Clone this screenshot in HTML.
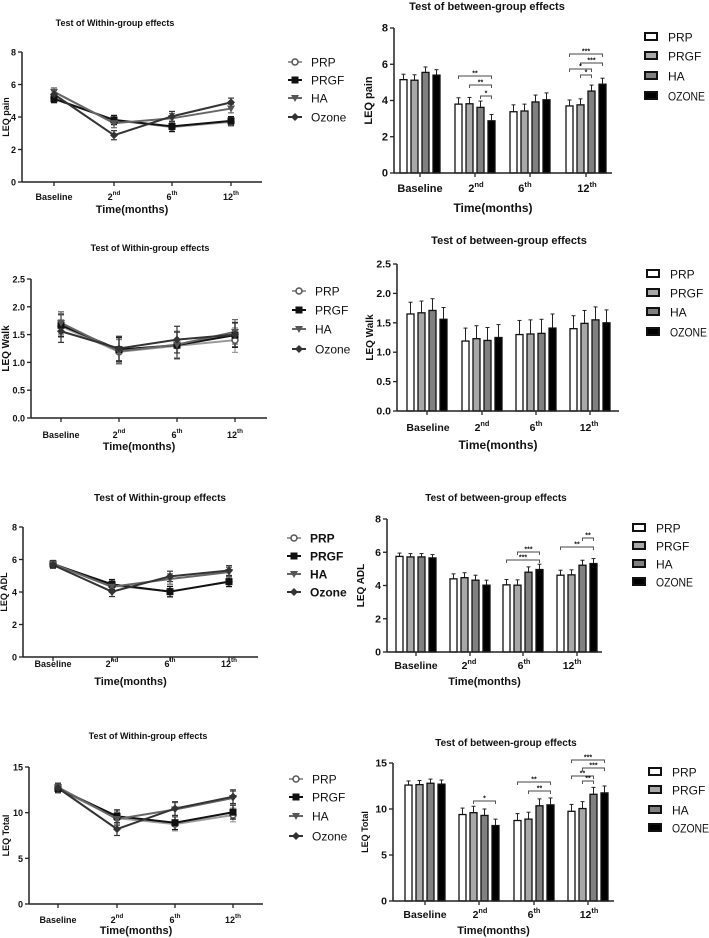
<!DOCTYPE html>
<html><head><meta charset="utf-8"><style>
html,body{margin:0;padding:0;background:#fff;}
svg{display:block;font-family:"Liberation Sans",Arial,sans-serif;}
</style></head><body>
<svg id="fig" width="709" height="938" viewBox="0 0 709 938" xmlns="http://www.w3.org/2000/svg"></svg>
<script>
// ---- data ----
const categories = ["Baseline","2nd","6th","12th"];
const groups = ["PRP","PRGF","HA","OZONE"];
const lineGroups = ["PRP","PRGF","HA","Ozone"];

const painPRP = [5.15,3.8,3.38,3.7];
const painPRGF = [5.12,3.82,3.42,3.76];
const painHA = [5.55,3.62,3.92,4.52];
const painOZ = [5.4,2.88,4.04,4.9];
const painErr = [0.3,0.35,0.38,0.33];

const walkPRP = [1.65,1.19,1.30,1.40];
const walkPRGF = [1.67,1.23,1.31,1.49];
const walkHA = [1.71,1.20,1.32,1.55];
const walkOZ = [1.56,1.25,1.41,1.50];
const walkErr = [0.2,0.22,0.24,0.22];

const adlPRP = [5.75,4.4,4.04,4.62];
const adlPRGF = [5.72,4.47,4.02,4.64];
const adlHA = [5.72,4.32,4.8,5.22];
const adlOZ = [5.66,4.02,4.96,5.32];
const adlErr = [0.2,0.3,0.32,0.3];

const totPRP = [12.6,9.4,8.75,9.75];
const totPRGF = [12.65,9.6,8.9,10.05];
const totHA = [12.8,9.3,10.35,11.6];
const totOZ = [12.7,8.2,10.45,11.75];
const totErr = [0.45,0.7,0.75,0.75];

const painTicks = [0,2,4,6,8];
const walkTicks = [0,0.5,1.0,1.5,2.0,2.5];
const walkTickLabels = ["0.0","0.5","1.0","1.5","2.0","2.5"];
const adlTicks = [0,2,4,6,8];
const totTicks = [0,5,10,15];

// significance: [categoryIndex, fromGroup, toGroup, label]
const painSig = [[1,0,3,"**"],[1,1,3,"**"],[1,2,3,"*"],[3,0,3,"***"],[3,1,3,"***"],[3,0,2,"*"],[3,1,2,"*"]];
const adlSig = [[2,1,3,"***"],[2,0,3,"***"],[3,2,3,"**"],[3,0,3,"**"]];
const totSig = [[1,1,3,"*"],[2,0,3,"**"],[2,1,3,"**"],[3,0,3,"***"],[3,1,3,"***"],[3,0,2,"**"],[3,1,2,"**"]];

// ---- rendering ----
const NS="http://www.w3.org/2000/svg";
const svg=document.getElementById('fig');
function mk(tag,parent){const e=document.createElementNS(NS,tag);parent.appendChild(e);return e;}
function at(e,o){for(const k in o)e.setAttribute(k,o[k]);return e;}
function txt(parent,x,y,s,size,weight,anchor,name){
  const t=mk('text',parent);
  at(t,{x:x,y:y,'font-size':size,'font-weight':weight,'text-anchor':anchor,fill:'#111'});
  
  
  t.textContent=s;return t;
}
function catLabel(parent,x,y,i,size){
  const t=mk('text',parent);
  at(t,{x:x,y:y,'font-size':size,'font-weight':'bold','text-anchor':'middle',fill:'#111'});
  
  
  if(i===0){t.textContent='Baseline';return;}
  const num=['','2','6','12'][i], sup=['','nd','th','th'][i];
  const a=mk('tspan',t);a.textContent=num;
  const b=mk('tspan',t);at(b,{dy:-5,'font-size':size*0.7});b.textContent=sup;
}
function axes(g,p,ticks,labels,ylabel){
  const yl=mk('line',g);at(yl,{x1:p.ax,x2:p.ax,y1:p.top,y2:p.y0,stroke:'#222','stroke-width':1.5});
  
  
  const xl=mk('line',g);at(xl,{x1:p.ax,x2:p.xend,y1:p.y0,y2:p.y0,stroke:'#222','stroke-width':1.5});
  
  
  ticks.forEach((v,i)=>{
    const y=p.sy(v);
    const tk=mk('line',g);at(tk,{x1:p.ax-4,x2:p.ax,y1:y,y2:y,stroke:'#222','stroke-width':1.3});
    
    
    txt(g,p.ax-6,y+3.5,labels?labels[i]:String(v),p.tickSize,'bold','end','y-tick-label');
  });
  categories.forEach((c,i)=>{
    const x=p.cx[i];
    const tk=mk('line',g);at(tk,{x1:x,x2:x,y1:p.y0,y2:p.y0+4,stroke:'#222','stroke-width':1.3});
    
    
    catLabel(g,p.lx?p.lx[i]:x,p.xtY,i,p.tickSize);
  });
  txt(g,(p.ax+p.xend)/2-10,p.xlY,'Time(months)',p.xlSize,'bold','middle','x-axis-title');
  const t=txt(g,0,0,ylabel,p.ylSize,'bold','middle','y-axis-title');
  at(t,{transform:`translate(${p.ylX},${(p.top+p.y0)/2}) rotate(-90)`});
  txt(g,p.titleX,p.titleY,p.title,p.titleSize,'bold','middle','chart-title');
}
function scale(p,max){p.sy=v=>p.y0-(v/max)*(p.y0-p.top);return p;}

const barFills=['#ffffff','#a8a8a8','#808080','#000000'];
const offs=[-16.5,-5.5,5.5,16.5];
function barChart(p,series,err,ticks,labels,max,ylabel,sig){
  const g=mk('g',svg);
  
  
  scale(p,max);
  series.forEach((vals,s)=>{
    vals.forEach((v,i)=>{
      const x=p.cx[i]+offs[s]-3.5, y=p.sy(v), ye=p.sy(v+err[i]);
      const el=mk('line',g);at(el,{x1:x+3.5,x2:x+3.5,y1:y,y2:ye,stroke:'#222','stroke-width':1});
      
      
      const cp=mk('line',g);at(cp,{x1:x+1.5,x2:x+5.5,y1:ye,y2:ye,stroke:'#222','stroke-width':1});
      
      
      const r=mk('rect',g);at(r,{x:x,y:y,width:7,height:p.y0-y,fill:barFills[s],stroke:'#111','stroke-width':1.3});
      
      
    });
  });
  (sig||[]).forEach(([c,a,b,lab],k)=>{
    const xa=p.cx[c]+offs[a], xb=p.cx[c]+offs[b], y=p.sigY[k];
    const pl=mk('polyline',g);at(pl,{points:`${xa},${y+3} ${xa},${y} ${xb},${y} ${xb},${y+3}`,fill:'none',stroke:'#444','stroke-width':0.9});
    
    
    txt(g,(xa+xb)/2,y-0.5,lab,7,'bold','middle','significance-label');
  });
  axes(g,p,ticks,labels,ylabel);
  groups.forEach((n,s)=>{
    const y=p.legY[s];
    const r=mk('rect',g);at(r,{x:p.legX,y:y-4,width:12,height:7,fill:barFills[s],stroke:'#111','stroke-width':2});
    
    
    const t=txt(g,p.legX+23,y+4.5,n,12,'normal','start','legend-entry');
    if(n==='OZONE'){at(t,{textLength:37,lengthAdjust:'spacingAndGlyphs'});}
  });
}
const lineCols=['#9a9a9a','#111','#666','#333'];
function marker(g,type,x,y,col){
  let m;
  if(type===0){m=mk('circle',g);at(m,{cx:x,cy:y,r:3,fill:'#fff',stroke:'#555','stroke-width':1.5});}
  else if(type===1){m=mk('rect',g);at(m,{x:x-3.5,y:y-3.5,width:7,height:7,fill:'#111'});}
  else if(type===2){m=mk('polygon',g);at(m,{points:`${x-4},${y-3} ${x+4},${y-3} ${x},${y+4}`,fill:'#555'});}
  else {m=mk('polygon',g);at(m,{points:`${x},${y-4} ${x+4},${y} ${x},${y+4} ${x-4},${y}`,fill:'#333'});}
  
  
}
function lineChart(p,series,err,ticks,labels,max,ylabel){
  const g=mk('g',svg);
  
  
  scale(p,max);
  series.forEach((vals,s)=>{
    vals.forEach((v,i)=>{
      const x=p.cx[i];
      const e=mk('line',g);at(e,{x1:x,x2:x,y1:p.sy(v-err[i]),y2:p.sy(v+err[i]),stroke:lineCols[s],'stroke-width':1.2});
      
      
      [v-err[i],v+err[i]].forEach(w=>{const c=mk('line',g);at(c,{x1:x-3,x2:x+3,y1:p.sy(w),y2:p.sy(w),stroke:lineCols[s],'stroke-width':1.2});
        
        });
    });
    const pl=mk('polyline',g);
    at(pl,{points:vals.map((v,i)=>p.cx[i]+','+p.sy(v)).join(' '),fill:'none',stroke:lineCols[s],'stroke-width':2});
    
    
  });
  series.forEach((vals,s)=>vals.forEach((v,i)=>marker(g,s,p.cx[i],p.sy(v),lineCols[s])));
  axes(g,p,ticks,labels,ylabel);
  lineGroups.forEach((n,s)=>{
    const y=p.legY[s];
    const l=mk('line',g);at(l,{x1:p.legX-7,x2:p.legX+7,y1:y,y2:y,stroke:lineCols[s],'stroke-width':2});
    
    
    marker(g,s,p.legX,y,lineCols[s]);
    txt(g,p.legX+16,y+4.5,n,p.legSize||12,p.legBold?'bold':'normal','start','legend-entry');
  });
}

lineChart({name:'pain-line-chart',ax:22,top:52,y0:182,xend:262,cx:[54,114,172,231],xtY:200,xlY:213,xlSize:11,tickSize:9,ylX:9,ylSize:9,
  title:'Test of  Within-group effects',titleX:115,titleY:26,titleSize:9,legX:295,legY:[62,80,98,117]},
  [painPRP,painPRGF,painHA,painOZ],painErr.map(e=>e*0.8),painTicks,null,8,'LEQ pain');
barChart({name:'pain-bar-chart',ax:394,top:28,y0:173,xend:612,cx:[420,475,530,586],lx:[420,476,525,587],xtY:192,xlY:212,xlSize:12,tickSize:11,ylX:372,ylSize:11,
  title:'Test of between-group effects',titleX:487,titleY:10,titleSize:11,legX:645,legY:[37,56,76,96],sigY:[76,85,96,54,63,69,75]},
  [painPRP,painPRGF,painHA,painOZ],painErr,painTicks,null,8,'LEQ  pain',painSig);

lineChart({name:'walk-line-chart',ax:31,top:279,y0:418,xend:267,cx:[61,119,177,235],xtY:438,xlY:450,xlSize:11,tickSize:9,ylX:9,ylSize:10,
  title:'Test of  Within-group effects',titleX:150,titleY:251,titleSize:9,legX:299,legY:[291,310,329,349]},
  [walkPRP,walkPRGF,walkHA,walkOZ],walkErr,walkTicks,walkTickLabels,2.5,'LEQ  Walk');
barChart({name:'walk-bar-chart',ax:397,top:264,y0:411,xend:619,cx:[427,482,536,590],lx:[428,482,536,589],xtY:431,xlY:449,xlSize:12,tickSize:10.5,ylX:373,ylSize:10,
  title:'Test of between-group effects',titleX:509,titleY:244,titleSize:11,legX:647,legY:[274,293,312,332],sigY:[]},
  [walkPRP,walkPRGF,walkHA,walkOZ],walkErr,walkTicks,walkTickLabels,2.5,'LEQ Walk',[]);

lineChart({name:'adl-line-chart',ax:23,top:527,y0:657,xend:258,cx:[53,112,170,229],xtY:667,xlY:685,xlSize:11,tickSize:9,ylX:7,ylSize:9,
  title:'Test of  Within-group effects',titleX:160,titleY:501,titleSize:10,legX:294,legY:[538,556,574,592],legBold:true},
  [adlPRP,adlPRGF,adlHA,adlOZ],adlErr,adlTicks,null,8,'LEQ ADL');
barChart({name:'adl-bar-chart',ax:387,top:519,y0:652,xend:602,cx:[416,470,523,577],lx:[416,469,524,572],xtY:669,xlY:685,xlSize:11,tickSize:10.5,ylX:364,ylSize:10,
  title:'Test of between-group effects',titleX:496,titleY:501,titleSize:10,legX:633,legY:[528,546,564,582],sigY:[552,560,538,547]},
  [adlPRP,adlPRGF,adlHA,adlOZ],adlErr,adlTicks,null,8,'LEQ ADL',adlSig);

lineChart({name:'total-line-chart',ax:29,top:767,y0:904,xend:263,cx:[58,117,175,233],xtY:923,xlY:934,xlSize:11,tickSize:9,ylX:9,ylSize:9,
  title:'Test of  Within-group effects',titleX:148,titleY:739,titleSize:9,legX:296,legY:[779,797,816,836]},
  [totPRP,totPRGF,totHA,totOZ],totErr,totTicks,null,15,'LEQ Total');
barChart({name:'total-bar-chart',ax:393,top:763,y0:901,xend:614,cx:[425,479,534,588],lx:[425,480,534,589],xtY:918,xlY:934,xlSize:11,tickSize:10.5,ylX:368,ylSize:9,
  title:'Test of between-group effects',titleX:506,titleY:746,titleSize:10,legX:649,legY:[772,790,810,828],sigY:[801,782,791,760,768,776,781]},
  [totPRP,totPRGF,totHA,totOZ],totErr,totTicks,null,15,'LEQ Total',totSig);
</script>
</body></html>
